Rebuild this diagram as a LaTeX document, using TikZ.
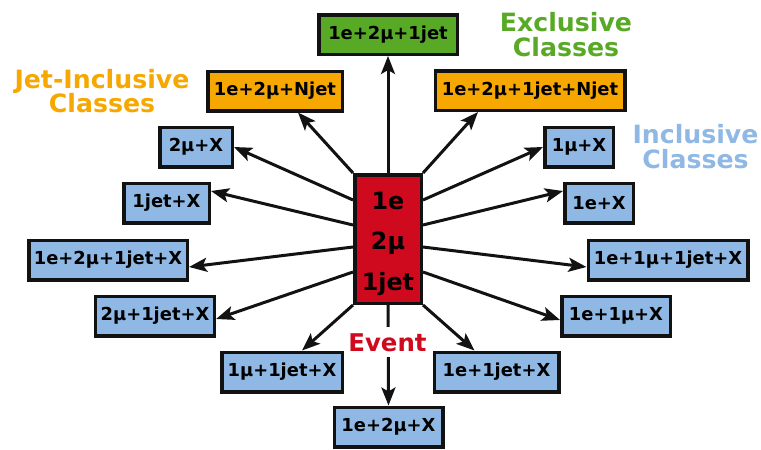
\documentclass[tikz,border=0pt]{standalone}
\usepackage{fontspec}
\setmainfont{DejaVu Sans}
\usetikzlibrary{arrows.meta}
\definecolor{evred}{RGB}{208,10,30}
\definecolor{exgreen}{RGB}{88,170,38}
\definecolor{jorange}{RGB}{246,167,0}
\definecolor{inblue}{RGB}{143,185,228}
\newcommand{\tightlines}{\setlength{\lineskiplimit}{-30pt}}
\tikzset{
  cls/.style={draw=black!93, line width=3.5pt, minimum height=39.5pt, inner xsep=5pt, inner ysep=0pt,
    font=\fontsize{17.9}{20}\selectfont\bfseries},
  inclbox/.style={cls, fill=inblue},
  jetbox/.style={cls, fill=jorange},
  exbox/.style={cls, fill=exgreen},
  grouplabel/.style={align=center, inner sep=0pt,
    font=\tightlines\fontsize{25.2}{24.5}\selectfont\bfseries},
  arr/.style={line width=3pt, draw=black!93, -{Stealth[length=18pt,width=14pt,inset=4pt]}}
}
\begin{document}
\begin{tikzpicture}[x=1pt,y=-1pt]
\useasboundingbox (0,0) rectangle (761,450);
% event box
\node[draw=black!93, line width=3.5pt, fill=evred, minimum width=66.5pt, minimum height=128.5pt,
  inner sep=0pt,
  label={[align=center, inner sep=0pt, yshift=-4.5pt, font=\fontsize{23.8}{40.5}\selectfont\bfseries]center:1e\\2μ\\1jet}]
  (ev) at (388,239) {};
% class boxes
\node[exbox, minimum width=138.5pt] (g1) at (388,34.5) {1e+2μ+1jet};
\node[jetbox, minimum width=134.5pt] (j1) at (275,91) {1e+2μ+Njet};
\node[jetbox, minimum width=189.5pt] (j2) at (530,90.5) {1e+2μ+1jet+Njet};
\node[inclbox, minimum width=72.5pt] (b1) at (196,147) {2μ+X};
\node[inclbox, minimum width=85.5pt] (b2) at (166.5,203) {1jet+X};
\node[inclbox, minimum width=158.5pt] (b3) at (108,260) {1e+2μ+1jet+X};
\node[inclbox, minimum width=116.5pt] (b4) at (155,316) {2μ+1jet+X};
\node[inclbox, minimum width=120.5pt] (b5) at (282,372) {1μ+1jet+X};
\node[inclbox, minimum width=108.5pt] (b6) at (388.5,427) {1e+2μ+X};
\node[inclbox, minimum width=124.5pt] (b7) at (496.5,372) {1e+1jet+X};
\node[inclbox, minimum width=108.5pt] (b8) at (616,316) {1e+1μ+X};
\node[inclbox, minimum width=159.5pt] (b9) at (668,260) {1e+1μ+1jet+X};
\node[inclbox, minimum width=68.5pt] (b10) at (599,203) {1e+X};
\node[inclbox, minimum width=68.5pt] (b11) at (579,147) {1μ+X};
% group labels
\node[grouplabel, text=jorange] (ljet) at (102,91) {Jet-Inclusive\\Classes};
\node[grouplabel, text=exgreen] (lex) at (566,34.5) {Exclusive\\Classes};
\node[grouplabel, text=inblue] (lin) at (695.5,146.5) {Inclusive\\Classes};
% arrows
\draw[arr] (ev.north) -- (g1.south);
\draw[arr] (ev.north west) -- ([xshift=23pt]j1.south);
\draw[arr] (ev.north east) -- ([xshift=-52pt]j2.south);
\draw[arr] ([yshift=39pt]ev.west) -- (b1.east);
\draw[arr] ([yshift=14pt]ev.west) -- ([yshift=12pt]b2.east);
\draw[arr] ([yshift=-8pt]ev.west) -- ([yshift=-7pt]b3.east);
\draw[arr] ([yshift=-33pt]ev.west) -- ([yshift=-3pt]b4.east);
\draw[arr] (ev.south west) -- ([xshift=20pt]b5.north);
\draw[arr] (ev.south) -- (b6.north);
\draw[arr] (ev.south east) -- ([xshift=-22pt]b7.north);
\draw[arr] ([yshift=-33pt]ev.east) -- ([yshift=-4pt]b8.west);
\draw[arr] ([yshift=-8pt]ev.east) -- ([yshift=-7pt]b9.west);
\draw[arr] ([yshift=14pt]ev.east) -- ([yshift=12pt]b10.west);
\draw[arr] ([yshift=39pt]ev.east) -- (b11.west);
% event label over the downward arrow
\node[fill=white, text=evred, inner xsep=2pt, inner ysep=6pt, anchor=base,
  font=\fontsize{24.4}{26}\selectfont\bfseries] (evl) at (387.5,351) {Event};
\end{tikzpicture}
\end{document}
